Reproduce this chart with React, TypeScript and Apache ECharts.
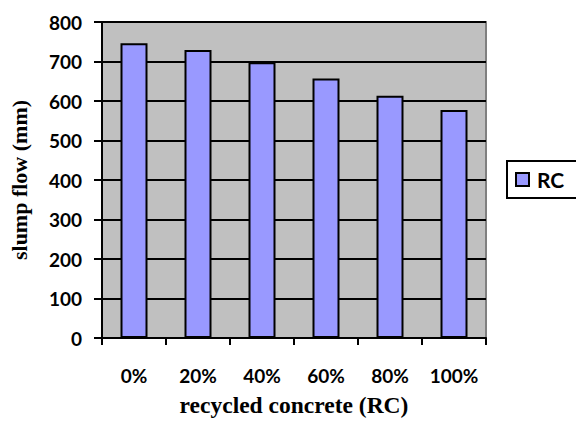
import React, { useEffect, useRef } from "react";
import * as echarts from "echarts";

const categories = ["0%", "20%", "40%", "60%", "80%", "100%"];
const rcValues = [746, 729, 698, 657, 613, 577];
const yTicks = { min: 0, max: 800, interval: 100 };

export default function App() {
  const ref = useRef<HTMLDivElement>(null);

  useEffect(() => {
    if (!ref.current) return;
    const chart = echarts.init(ref.current, null, { renderer: "svg" });
    const sans = "Lato";
    const serif = "Liberation Serif";
    chart.setOption({
      animation: false,
      backgroundColor: "#ffffff",
      grid: {
        left: 96,
        top: 22,
        right: 90,
        bottom: 90,
        show: true,
        backgroundColor: "#C0C0C0",
        borderColor: "#808080",
        borderWidth: 2,
      },
      legend: {
        data: ["RC"],
        left: 507,
        top: 161,
        orient: "vertical",
        padding: [8, 14, 8, 8],
        backgroundColor: "#ffffff",
        borderColor: "#000000",
        borderWidth: 2,
        itemWidth: 13,
        itemHeight: 13,
        icon: "rect",
        itemStyle: { color: "#9999FF", borderColor: "#000000", borderWidth: 2 },
        textStyle: {
          fontFamily: sans,
          fontWeight: "bold",
          fontSize: 21,
          color: "#000",
          padding: [0, 0, 0, 3],
        },
      },
      xAxis: {
        type: "category",
        data: categories,
        name: "recycled concrete (RC)",
        nameLocation: "middle",
        nameGap: 55,
        nameTextStyle: { fontFamily: serif, fontWeight: "bold", fontSize: 23.5, color: "#000" },
        axisLine: { lineStyle: { color: "#000", width: 2 } },
        axisTick: { show: true, length: 7, lineStyle: { color: "#000", width: 2 } },
        axisLabel: { margin: 28, fontFamily: sans, fontWeight: "bold", fontSize: 19, color: "#000" },
      },
      yAxis: {
        type: "value",
        min: yTicks.min,
        max: yTicks.max,
        interval: yTicks.interval,
        name: "slump flow (mm)",
        nameLocation: "middle",
        nameGap: 72,
        nameRotate: 90,
        nameTextStyle: { fontFamily: serif, fontWeight: "bold", fontSize: 22, color: "#000" },
        axisLine: { show: true, lineStyle: { color: "#000", width: 2 } },
        axisTick: { show: true, length: 8, lineStyle: { color: "#000", width: 2 } },
        axisLabel: { margin: 20, fontFamily: sans, fontWeight: "bold", fontSize: 19, color: "#000" },
        splitLine: { show: true, lineStyle: { color: "#000", width: 2 } },
      },
      series: [
        {
          name: "RC",
          type: "bar",
          data: rcValues,
          barWidth: 27,
          itemStyle: { color: "#9999FF", borderColor: "#000000", borderWidth: 2 },
        },
      ],
    });
    return () => chart.dispose();
  }, []);

  return (
    <div
      ref={ref}
      style={{ position: "fixed", left: 0, top: 0, width: 576, height: 428 }}
    />
  );
}
